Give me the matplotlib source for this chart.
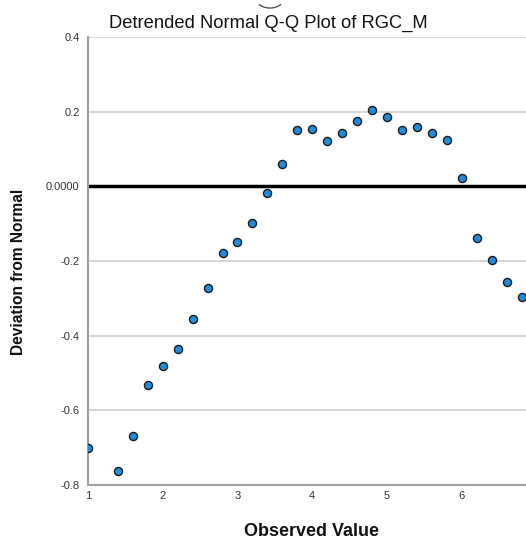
import matplotlib
matplotlib.use('Agg')
import matplotlib.pyplot as plt
from matplotlib.patches import Arc

# Datos
observado = [1.0, 1.4, 1.6, 1.8, 2.0, 2.2, 2.4, 2.6, 2.8, 3.0, 3.2, 3.4, 3.6,
             3.8, 4.0, 4.2, 4.4, 4.6, 4.8, 5.0, 5.2, 5.4, 5.6, 5.8, 6.0,
             6.2, 6.4, 6.6, 6.8]
desviacion = [-0.702, -0.762, -0.668, -0.531, -0.480, -0.435, -0.356, -0.271,
              -0.179, -0.148, -0.099, -0.018, 0.061, 0.152, 0.153, 0.121,
              0.144, 0.174, 0.205, 0.187, 0.151, 0.160, 0.144, 0.125, 0.023,
              -0.139, -0.196, -0.257, -0.297]
yticks = [0.4, 0.2, 0.0, -0.2, -0.4, -0.6, -0.8]
ytick_labels = ['0.4', '0.2', '0.0000', '-0.2', '-0.4', '-0.6', '-0.8']
xticks = [1, 2, 3, 4, 5, 6]

plt.rcParams['font.family'] = ['Liberation Sans', 'DejaVu Sans']

fig = plt.figure(figsize=(5.26, 5.44), dpi=100)
ax = fig.add_axes([88 / 526, 1 - 485 / 544, 1 - 88 / 526, (485 - 37) / 544])

ax.set_xlim(1, 6.86)
ax.set_ylim(-0.8, 0.4)

# Lineas de cuadricula horizontales
for v in yticks:
    if v != 0.0:
        ax.axhline(v, color='#d0d0d0', linewidth=1.2, zorder=1)
ax.axhline(0.0, color='black', linewidth=2.5, zorder=2)

ax.scatter(observado, desviacion, s=34, color='#1e8de0', edgecolor='#1a1a1a',
           linewidths=1.0, zorder=3)

for s in ['top', 'right']:
    ax.spines[s].set_visible(False)
for s in ['left', 'bottom']:
    ax.spines[s].set_color('#a0a0a0')
    ax.spines[s].set_linewidth(1.5)

ax.set_yticks(yticks)
ax.set_yticklabels(ytick_labels)
ax.set_xticks(xticks)
ax.tick_params(length=0, labelsize=8, colors='#333333')
ax.tick_params(axis='y', pad=6)
ax.tick_params(axis='x', pad=4)

fig.text(268 / 526, 1 - 23 / 544, 'Detrended Normal Q-Q Plot of RGC_M',
         ha='center', va='center', fontsize=13.2, color='#111111')
fig.text(312 / 526, 1 - 532 / 544, 'Observed Value', ha='center', va='center',
         fontsize=13, fontweight='bold', color='#111111')
fig.text(19 / 526, 1 - 272 / 544, 'Deviation from Normal', ha='center',
         va='center', rotation=90, fontsize=11.2, fontweight='bold',
         color='#111111')

# Pequeno arco recortado en la parte superior
arco = Arc((270 / 526, 1.0), 26 / 526, 16 / 544, theta1=200, theta2=340,
           transform=fig.transFigure, color='#555555', linewidth=1)
fig.add_artist(arco)

fig.savefig('out.png', dpi=100)
plt.close()
